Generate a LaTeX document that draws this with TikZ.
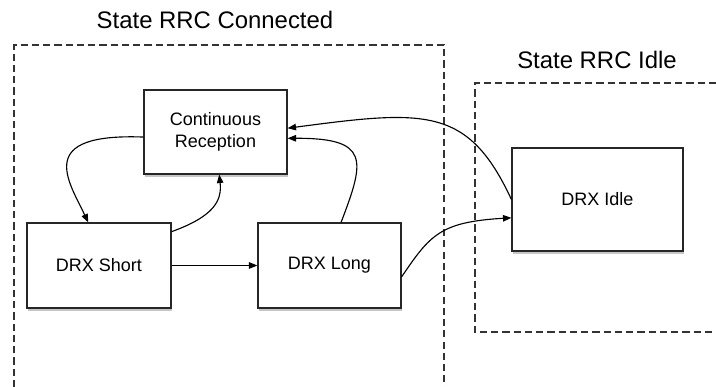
\documentclass[tikz,border=0pt]{standalone}
\usepackage{fontspec}
\setmainfont{Liberation Sans}
\usetikzlibrary{arrows.meta,shadows}
\tikzset{every path/.style={line width=0.8pt}}
\tikzset{state/.style={draw=black!85, fill=white, align=center, font=\fontsize{12.8}{15.5}\selectfont,
    drop shadow={shadow xshift=0.7pt, shadow yshift=-2pt, opacity=0.45}},
  region/.style={dash pattern=on 5pt off 3pt, draw=black!80},
  >={Triangle[length=6pt,width=4.6pt]}}

\begin{document}
\begin{tikzpicture}[x=0.025cm, y=-0.025cm]
    \useasboundingbox (0,0) rectangle (716,387);

    \draw[region] (14,387) -- (14,45) -- (444,45) -- (444,387);
    \draw[region] (716,83) -- (475,83) -- (475,332) -- (716,332);
    \node[font=\fontsize{17}{20}\selectfont] (conntitle) at (215,20) {State RRC Connected};
    \node[font=\fontsize{17}{20}\selectfont] (idletitle) at (597,60) {State RRC Idle};

    \node[state, minimum width=3.575cm, minimum height=2.1cm] (cr) at (215.5,132) {Continuous\\Reception};
    \node[state, minimum width=3.6cm, minimum height=2.125cm] (short) at (99,265.5) {DRX Short};
    \node[state, minimum width=3.575cm, minimum height=2.125cm] (long) at (329.5,265.5) {DRX Long};
    \node[state, minimum width=4.275cm, minimum height=2.575cm] (idle) at (597.5,199.5) {DRX Idle};

    \draw[->] (cr.184) .. controls (35,133) and (68,180) .. (short.104);
    \draw[->] (short.25) .. controls (215,216) and (222,200) .. (cr.275);
    \draw[->] (short.east) -- (long.west);
    \draw[->] (long.75) .. controls (365,160) and (370,138) .. (cr.-5);
    \draw[->] (idle.west) .. controls (468,106) and (425,110) .. (cr.3);
    \draw[->] (long.-9) .. controls (430,235) and (440,222) .. (idle.192);
  \end{tikzpicture}
\end{document}
